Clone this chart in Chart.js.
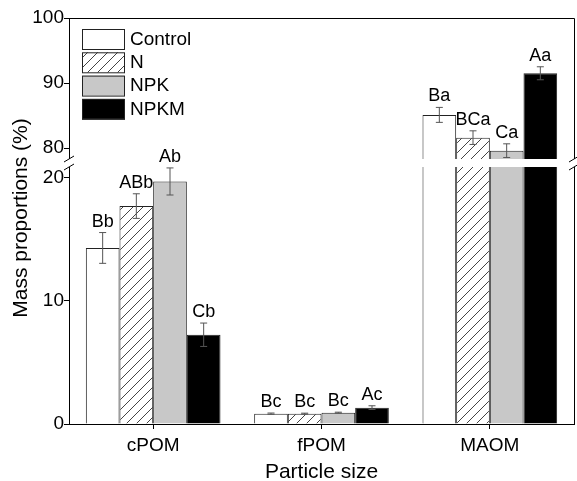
<!DOCTYPE html>
<html>
<head>
<meta charset="utf-8">
<script src="https://cdn.jsdelivr.net/npm/chart.js@4.4.1/dist/chart.umd.min.js"></script>
<style>
  html, body { margin: 0; padding: 0; background: #fff; }
  #wrap { width: 577px; height: 481px; }
</style>
</head>
<body>
<div id="wrap"><canvas id="chart" width="577" height="481"></canvas></div>
<script>
'use strict';

// categories and which of them sit on the upper (broken) part of the axis
const categories = ['cPOM', 'fPOM', 'MAOM'];
const onUpper = [false, false, true];

const seriesNames = ['Control', 'N', 'NPK', 'NPKM'];
const controlValues = [14.3, 0.84, 85.1];
const nValues = [17.7, 0.84, 81.6];
const npkValues = [19.7, 0.92, 79.6];
const npkmValues = [7.25, 1.33, 91.5];

const controlErr = [1.25, 0.05, 1.15];
const nErr = [1.0, 0.04, 1.05];
const npkErr = [1.1, 0.04, 1.05];
const npkmErr = [0.95, 0.15, 1.0];

const controlLetters = ['Bb', 'Bc', 'Ba'];
const nLetters = ['ABb', 'Bc', 'BCa'];
const npkLetters = ['Ab', 'Bc', 'Ca'];
const npkmLetters = ['Cb', 'Ac', 'Aa'];

const lowerTicks = [0, 10, 20];
const upperTicks = [80, 90, 100];
const LOWER_MAX = 21.2;
const UPPER_MIN = 77.7;

const allValues = [controlValues, nValues, npkValues, npkmValues];
const allErr = [controlErr, nErr, npkErr, npkmErr];
const allLetters = [controlLetters, nLetters, npkLetters, npkmLetters];

function makeHatch() {
    const c = document.createElement('canvas');
    c.width = 10; c.height = 10;
    const g = c.getContext('2d');
    g.fillStyle = '#fff';
    g.fillRect(0, 0, 10, 10);
    g.strokeStyle = '#444';
    g.lineWidth = 1;
    g.beginPath();
    g.moveTo(0, 10); g.lineTo(10, 0);
    g.moveTo(-5, 5); g.lineTo(5, -5);
    g.moveTo(5, 15); g.lineTo(15, 5);
    g.stroke();
    return document.getElementById('chart').getContext('2d').createPattern(c, 'repeat');
}

const fills = ['#ffffff', makeHatch(), '#c8c8c8', '#000000'];
const FONT = 'Liberation Sans, Arial, sans-serif';

const datasets = [];
seriesNames.forEach((name, s) => {
    datasets.push({
        label: name,
        stack: name,
        yAxisID: 'yLow',
        data: allValues[s].map((v, i) => onUpper[i] ? Math.min(v, LOWER_MAX) : v),
        backgroundColor: fills[s],
        borderColor: '#222',
        borderWidth: 1
    });
    datasets.push({
        label: name + ' upper',
        stack: name,
        yAxisID: 'yUp',
        data: allValues[s].map((v, i) => onUpper[i] ? v : null),
        backgroundColor: fills[s],
        borderColor: '#222',
        borderWidth: 1
    });
});

const extras = {
    id: 'extras',
    afterDatasetsDraw(chart) {
        const ctx = chart.ctx;
        const area = chart.chartArea;
        const yLow = chart.scales.yLow, yUp = chart.scales.yUp;
        ctx.save();
        // frame top and right
        ctx.strokeStyle = '#000';
        ctx.lineWidth = 1;
        ctx.beginPath();
        ctx.moveTo(area.left, area.top + 0.5);
        ctx.lineTo(area.right + 0.5, area.top + 0.5);
        ctx.lineTo(area.right + 0.5, area.bottom);
        ctx.stroke();
        // axis break
        const yj = yUp.bottom;
        ctx.fillStyle = '#fff';
        ctx.fillRect(area.left - 1, yj - 4, area.right - area.left + 3, 8);
        ctx.strokeStyle = '#000';
        ctx.beginPath();
        [area.left, area.right].forEach(x => {
            ctx.moveTo(x - 5, yj - 1); ctx.lineTo(x + 5, yj - 7);
            ctx.moveTo(x - 5, yj + 7); ctx.lineTo(x + 5, yj + 1);
        });
        ctx.stroke();
        // error bars and letters
        seriesNames.forEach((name, s) => {
            const metaLow = chart.getDatasetMeta(s * 2);
            const metaUp = chart.getDatasetMeta(s * 2 + 1);
            categories.forEach((cat, i) => {
                const scale = onUpper[i] ? yUp : yLow;
                const el = (onUpper[i] ? metaUp : metaLow).data[i];
                const v = allValues[s][i], e = allErr[s][i];
                const yt = scale.getPixelForValue(v + e);
                const yb = scale.getPixelForValue(v - e);
                ctx.strokeStyle = '#555';
                ctx.lineWidth = 1;
                ctx.beginPath();
                ctx.moveTo(el.x, yt); ctx.lineTo(el.x, yb);
                ctx.moveTo(el.x - 3.5, yt); ctx.lineTo(el.x + 3.5, yt);
                ctx.moveTo(el.x - 3.5, yb); ctx.lineTo(el.x + 3.5, yb);
                ctx.stroke();
                ctx.fillStyle = '#000';
                ctx.font = '18px ' + FONT;
                ctx.textAlign = 'center';
                ctx.textBaseline = 'alphabetic';
                ctx.fillText(allLetters[s][i], el.x, yt - 6);
            });
        });
        // legend
        ctx.font = '19px ' + FONT;
        ctx.textAlign = 'left';
        ctx.textBaseline = 'middle';
        seriesNames.forEach((name, s) => {
            const bx = area.left + 13, by = area.top + 11 + s * 23.3;
            ctx.fillStyle = fills[s];
            ctx.fillRect(bx, by, 42, 20);
            ctx.strokeStyle = '#222';
            ctx.strokeRect(bx + 0.5, by + 0.5, 42, 20);
            ctx.fillStyle = '#000';
            ctx.fillText(name, bx + 48, by + 10.5);
        });
        // y title spanning both parts
        ctx.save();
        ctx.translate(21, (area.top + area.bottom) / 2 - 3);
        ctx.rotate(-Math.PI / 2);
        ctx.textAlign = 'center';
        ctx.font = '21px ' + FONT;
        ctx.fillText('Mass proportions (%)', 0, 0);
        ctx.restore();
        ctx.restore();
    }
};

function yAxis(min, max, ticks, weight) {
    return {
        type: 'linear',
        position: 'left',
        stack: 'y',
        stackWeight: weight,
        stacked: false,
        min: min,
        max: max,
        afterBuildTicks: scale => { scale.ticks = ticks.map(t => ({value: t})); },
        afterFit: scale => { scale.width = 40; },
        grid: { drawOnChartArea: false, drawTicks: true, tickLength: 5, color: '#000' },
        border: { color: '#000' },
        ticks: { color: '#000', padding: 0, font: { family: FONT, size: 19 } }
    };
}

new Chart(document.getElementById('chart'), {
    type: 'bar',
    data: { labels: categories, datasets: datasets },
    options: {
        responsive: false,
        animation: false,
        events: [],
        layout: { padding: { left: 29, right: 3, top: 18, bottom: 0 } },
        categoryPercentage: 0.8,
        barPercentage: 1.0,
        skipNull: true,
        plugins: { legend: { display: false }, tooltip: { enabled: false } },
        scales: {
            x: {
                grid: { drawOnChartArea: false, drawTicks: true, tickLength: 5, color: '#000', offset: false },
                border: { color: '#000' },
                ticks: { color: '#000', padding: 5, font: { family: FONT, size: 19 } },
                title: { display: true, text: 'Particle size', color: '#000', font: { family: FONT, size: 21, lineHeight: 1 }, padding: { top: 2, bottom: -1.5 } },
                afterFit: scale => { scale.height = 57; }
            },
            yLow: yAxis(0, LOWER_MAX, lowerTicks, 261),
            yUp: yAxis(UPPER_MIN, 100, upperTicks, 145)
        }
    },
    plugins: [extras]
});
</script>
</body>
</html>
